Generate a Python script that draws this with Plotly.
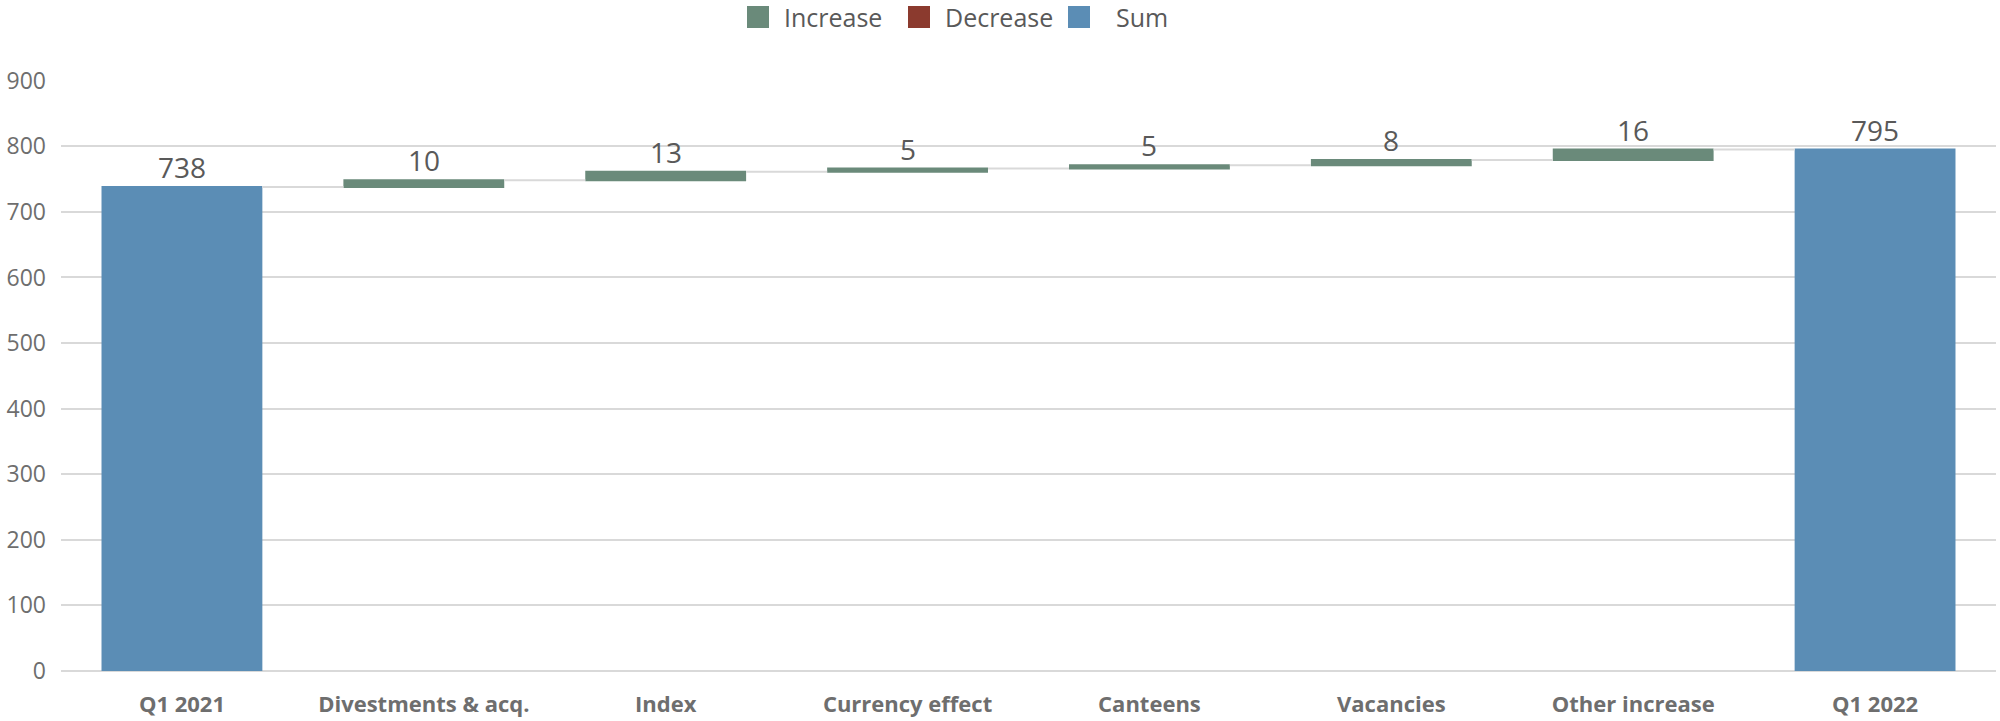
import plotly.graph_objects as go

# Waterfall data
categories = ["Q1 2021", "Divestments & acq.", "Index", "Currency effect",
              "Canteens", "Vacancies", "Other increase", "Q1 2022"]
measures = ["absolute", "relative", "relative", "relative",
            "relative", "relative", "relative", "total"]
values = [738, 10, 13, 5, 5, 8, 16, 795]
labels = ["738", "10", "13", "5", "5", "8", "16", "795"]

y_ticks = [0, 100, 200, 300, 400, 500, 600, 700, 800, 900]

legend_names = ["Increase", "Decrease", "Sum"]
legend_colors = ["#6A8A7A", "#8B3A2E", "#5B8DB5"]

FONT = "Open Sans"
TEXT_COLOR = "#595959"
TICK_COLOR = "#6E6E6E"
GRID = "#D9D9D9"

fig = go.Figure()
fig.add_trace(go.Waterfall(
    x=categories,
    y=values,
    measure=measures,
    increasing=dict(marker=dict(color=legend_colors[0])),
    decreasing=dict(marker=dict(color=legend_colors[1])),
    totals=dict(marker=dict(color=legend_colors[2])),
    connector=dict(mode="between", line=dict(color=GRID, width=2)),
    showlegend=False,
))

annotations = []

# Value labels sit just above the top of each bar
running = 0
for cat, meas, val, lab in zip(categories, measures, values, labels):
    if meas == "absolute":
        running = val
        top = val
    elif meas == "relative":
        running += val
        top = running if val >= 0 else running - val
    else:
        top = running
    annotations.append(dict(x=cat, y=top, xref="x", yref="y", text=lab,
                            showarrow=False, yanchor="bottom", yshift=-1,
                            font=dict(family=FONT, size=28, color=TEXT_COLOR)))

# Custom legend: colored squares with labels above the plot
legend_x = [747, 908, 1068]
text_x = [782, 943, 1114]
shapes = []
for name, color, sx, tx in zip(legend_names, legend_colors, legend_x, text_x):
    shapes.append(dict(type="rect", xref="paper", yref="paper",
                       x0=(sx - 61) / 1935, x1=(sx + 22 - 61) / 1935,
                       y0=(671 - 6) / 591, y1=(671 - 28) / 591,
                       fillcolor=color, line=dict(width=0)))
    annotations.append(dict(text=name, xref="paper", yref="paper",
                            x=(tx - 61) / 1935, y=(671 - 17) / 591,
                            xanchor="left", yanchor="middle", showarrow=False,
                            font=dict(family=FONT, size=25, color=TEXT_COLOR)))

fig.update_layout(
    width=2000, height=721,
    margin=dict(l=61, r=4, t=80, b=50),
    paper_bgcolor="white", plot_bgcolor="white",
    waterfallgap=0.335,
    shapes=shapes,
    annotations=annotations,
    font=dict(family=FONT, color=TEXT_COLOR),
    xaxis=dict(
        showgrid=False, showline=False, ticks="",
        ticklabelstandoff=18,
        tickfont=dict(family=FONT, size=22, color=TICK_COLOR, weight="bold"),
    ),
    yaxis=dict(
        range=[0, 901], tickvals=y_ticks,
        showgrid=True, gridcolor=GRID, gridwidth=2,
        zeroline=True, zerolinecolor=GRID, zerolinewidth=2,
        showline=False, ticks="",
        ticklabelstandoff=14,
        tickfont=dict(family=FONT, size=23, color=TICK_COLOR),
    ),
)

fig.write_html("out.html")
